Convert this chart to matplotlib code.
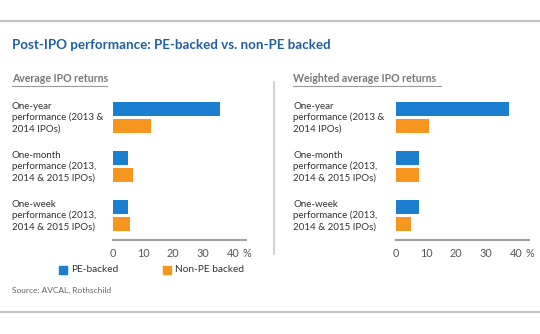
import matplotlib.pyplot as plt
from matplotlib.transforms import blended_transform_factory
from matplotlib.lines import Line2D
from matplotlib.patches import Rectangle

plt.rcParams['font.family'] = ['Lato', 'DejaVu Sans']

# returns in %, same category order for both panels
categories = ["One-year\nperformance (2013 &\n2014 IPOs)",
              "One-month\nperformance (2013,\n2014 & 2015 IPOs)",
              "One-week\nperformance (2013,\n2014 & 2015 IPOs)"]
avg_pe = [35.8, 5.0, 5.0]
avg_non_pe = [12.8, 6.5, 5.6]
wavg_pe = [37.8, 7.5, 7.5]
wavg_non_pe = [11.0, 7.5, 4.9]
ticks = [0, 10, 20, 30, 40]
tick_labels = ["0", "10", "20", "30", "40"]

blue = "#1a7fcf"
orange = "#f6961f"
grey_txt = "#555555"

W, H = 540, 334
fig = plt.figure(figsize=(W / 100, H / 100), dpi=100)


def fx(px):
    return px / W


def fy(py):
    return 1 - py / H


def panel(x0, label_x, pe, non_pe, subtitle, sub_w):
    ax = fig.add_axes([fx(x0), fy(240), fx(133), (240 - 98) / H])
    pos = list(range(len(categories)))
    off, h = 0.173, 0.286
    ax.barh([p - off for p in pos], pe, height=h, color=blue)
    ax.barh([p + off for p in pos], non_pe, height=h, color=orange)
    ax.set_xlim(0, 44.3)
    ax.set_ylim(2.5, -0.4)
    for s in ["top", "right", "left"]:
        ax.spines[s].set_visible(False)
    ax.spines["bottom"].set_color("#a0a0a0")
    ax.spines["bottom"].set_linewidth(1.5)
    ax.set_yticks([])
    ax.set_xticks(ticks)
    ax.set_xticklabels(tick_labels)
    ax.tick_params(axis="x", length=0, pad=6, labelsize=7.8, labelcolor=grey_txt)
    ax.annotate("%", xy=(40, 0), xycoords=("data", "axes fraction"),
                xytext=(7, -6), textcoords="offset points", ha="left", va="top",
                fontsize=7.8, color=grey_txt)
    tr = blended_transform_factory(fig.transFigure, ax.transData)
    for p, c in zip(pos, categories):
        ax.text(fx(label_x), p, c, transform=tr, ha="left", va="center",
                fontsize=7.0, color="#333333", linespacing=1.25)
    fig.text(fx(label_x), fy(79), subtitle, ha="left", va="center",
             fontsize=7.6, color="#777777", fontweight="bold")
    fig.add_artist(Line2D([fx(label_x), fx(label_x + sub_w)], [fy(86), fy(86)],
                          color="#9a9a9a", lw=0.8))
    return ax


panel(113, 12, avg_pe, avg_non_pe, "Average IPO returns", 95)
panel(396, 293, wavg_pe, wavg_non_pe, "Weighted average IPO returns", 148)

# title and frame
fig.text(fx(12), fy(45), "Post-IPO performance: PE-backed vs. non-PE backed",
         ha="left", va="center", fontsize=9.6, fontweight="bold", color="#1f5f9e")
fig.add_artist(Line2D([0, 1], [fy(21), fy(21)], color="#c4c4c4", lw=1.6))
fig.add_artist(Line2D([0, 1], [fy(312), fy(312)], color="#c4c4c4", lw=1.6))
fig.add_artist(Line2D([fx(274), fx(274)], [fy(82), fy(254)], color="#c8c8c8", lw=1.2))

# legend
fig.add_artist(Rectangle((fx(59), fy(274)), fx(8), 8 / H, color=blue,
                         transform=fig.transFigure))
fig.text(fx(71), fy(270), "PE-backed", ha="left", va="center", fontsize=7.3, color="#333333")
fig.add_artist(Rectangle((fx(163), fy(274)), fx(8), 8 / H, color=orange,
                         transform=fig.transFigure))
fig.text(fx(175), fy(270), "Non-PE backed", ha="left", va="center", fontsize=7.3, color="#333333")

fig.text(fx(12), fy(290), "Source: AVCAL, Rothschild", ha="left", va="center",
         fontsize=6.0, color="#666666")

fig.savefig("out.png", dpi=100)
